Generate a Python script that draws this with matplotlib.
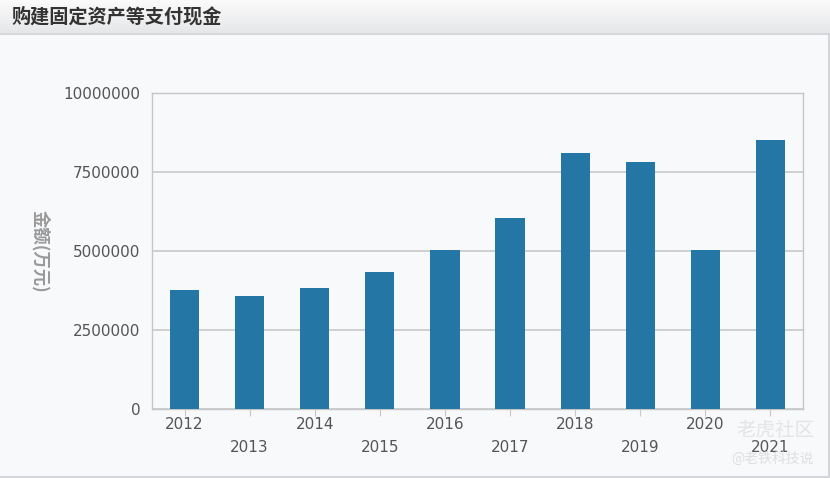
import numpy as np
import matplotlib.pyplot as plt

plt.rcParams['font.family'] = ['DejaVu Sans', 'Noto Sans CJK SC']

years = ["2012", "2013", "2014", "2015", "2016", "2017", "2018", "2019", "2020", "2021"]
values = [3770000, 3580000, 3830000, 4340000, 5030000, 6040000, 8100000, 7820000, 5030000, 8510000]
yticks = [0, 2500000, 5000000, 7500000, 10000000]
title = "购建固定资产等支付现金"
ylabel = "金额(万元)"

W, H = 830, 478
fig = plt.figure(figsize=(W / 100, H / 100), dpi=100)
fig.patch.set_facecolor("#f8f9fb")

# header bar with a soft gradient
hdr = fig.add_axes([0, 1 - 33 / H, 1, 33 / H])
grad = np.linspace(1, 0, 50).reshape(-1, 1)
hdr.imshow(grad, aspect="auto", cmap=plt.matplotlib.colors.LinearSegmentedColormap.from_list(
    "g", ["#e6e7e9", "#fbfbfb"]), extent=[0, 1, 0, 1])
hdr.set_xlim(0, 1)
hdr.set_ylim(0, 1)
hdr.axis("off")
hdr.text(11 / W, 0.5, title, family=["Noto Sans CJK SC"], fontsize=13.8,
         fontweight="bold", color="#333333", va="center", ha="left")
fig.add_artist(plt.Line2D([0, 1], [1 - 34 / H, 1 - 34 / H], color="#cfd1d4", lw=1.2))
fig.add_artist(plt.Line2D([0, 1], [1 / H, 1 / H], color="#d4d6d9", lw=1.5))
fig.add_artist(plt.Line2D([1 - 1 / W, 1 - 1 / W], [0, 1 - 34 / H], color="#d4d6d9", lw=1.5))

ax = fig.add_axes([152 / W, 1 - 409 / H, 651 / W, 316 / H])
ax.set_facecolor("#f8f9fb")
x = np.arange(len(years))
ax.bar(x, values, width=0.45, color="#2477a4", zorder=3)
ax.set_xlim(-0.5, len(years) - 0.5)
ax.set_ylim(0, 10000000)
ax.set_yticks(yticks)
ax.set_yticklabels([str(v) for v in yticks], fontsize=11, color="#555555")
ax.yaxis.grid(True, color="#c8c8c8", lw=1.2, zorder=0)
ax.tick_params(axis="y", length=0, pad=8.5)
ax.tick_params(axis="x", length=5, color="#c8c8c8", direction="out", pad=1)
ax.set_xticks(x)
labels = [y if i % 2 == 0 else "\n" + y for i, y in enumerate(years)]
ax.set_xticklabels(labels, fontsize=11, color="#555555", linespacing=1.65)
for s in ax.spines.values():
    s.set_color("#c4c6c8")
    s.set_linewidth(1)
ax.set_ylabel(ylabel, family=["Noto Sans CJK SC"], rotation=270, color="#999999",
              fontsize=12.5, fontweight="bold")
ax.yaxis.set_label_coords(-0.186, 0.5)

# watermark
fig.text(814 / W, 1 - 431 / H, "老虎社区", family=["Noto Sans CJK SC"], fontsize=14,
         color="#e3e4e6", ha="right", va="center", zorder=0)
fig.text(814 / W, 1 - 459 / H, "@老铁科技说", family=["Noto Sans CJK SC"], fontsize=10,
         color="#dedfe1", ha="right", va="center", zorder=0)

fig.savefig("out.png", dpi=100, facecolor=fig.get_facecolor())
